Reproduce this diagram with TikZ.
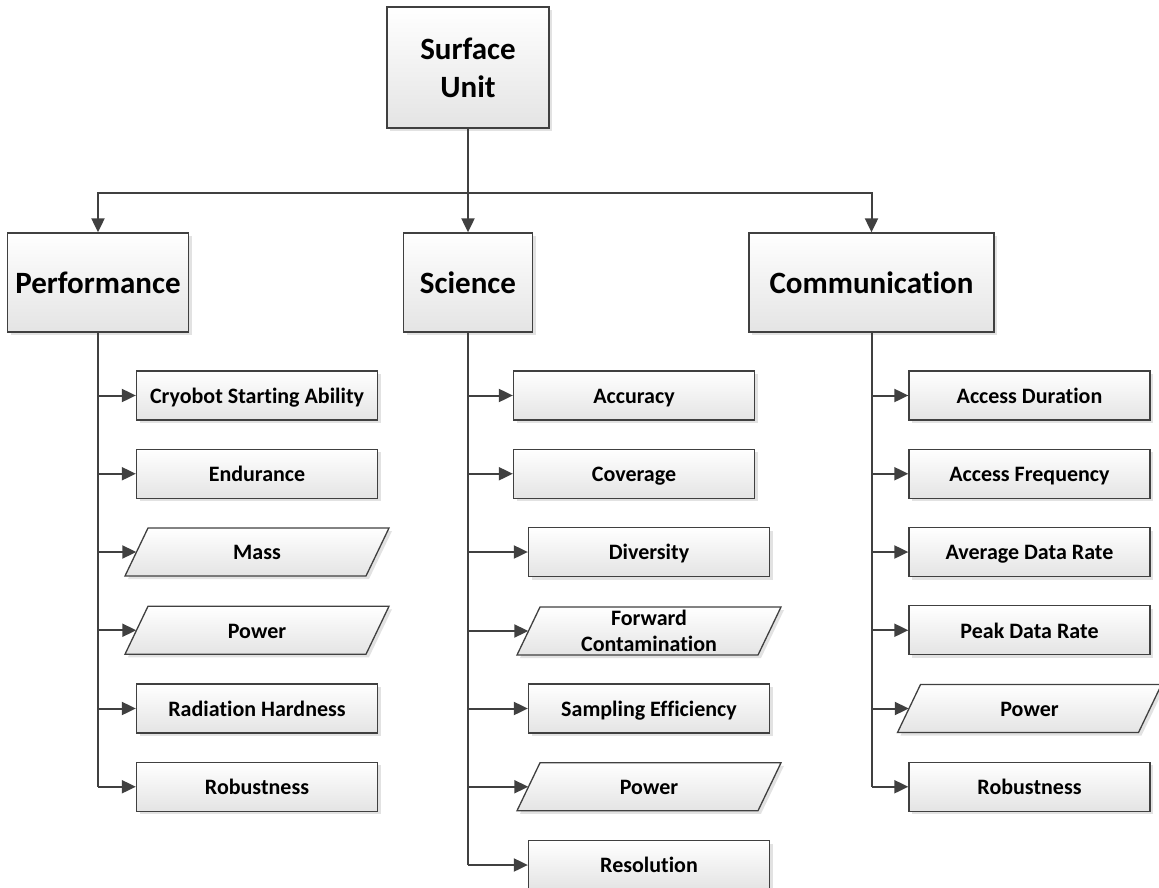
\documentclass[tikz,border=0pt]{standalone}
\usepackage{fontspec}
\setmainfont[Ligatures={NoCommon,NoContextual},RawFeature={-liga;-clig;-dlig}]{Carlito}
\usetikzlibrary{arrows.meta,shadows}
\definecolor{ln}{HTML}{404040}
\definecolor{bot}{HTML}{E4E4E4}
\tikzset{
  boxfill/.style={draw=ln, line width=1.3pt, top color=white, bottom color=bot,
    drop shadow={shadow xshift=3pt, shadow yshift=-3pt, fill=black!25, opacity=0.45}},
  topbox/.style={boxfill, rectangle, font=\fontsize{31}{38}\selectfont\bfseries,
    align=center, inner sep=0pt, minimum height=99pt},
  topone/.style={topbox, text height=21pt, text depth=0pt},
  child/.style={boxfill, rectangle, font=\fontsize{22}{26}\selectfont\bfseries,
    align=center, inner sep=0pt, minimum width=241pt, minimum height=49pt,
    text height=15.5pt, text depth=0pt},
  paratext/.style={rectangle, font=\fontsize{22}{26}\selectfont\bfseries,
    align=center, inner sep=0pt, minimum width=241pt, minimum height=48pt},
  paraone/.style={paratext, text height=15.5pt, text depth=0pt},
  conn/.style={draw=ln, line width=2pt},
  arr/.style={conn, -{Triangle[length=14pt,width=13pt]}}
}
\newcommand\paranode[5][paraone]{%
  \path[boxfill, shift={(#3,#4)}] (-109,-24) -- (132,-24) -- (109,24) -- (-132,24) -- cycle;
  \node[#1] (#2) at (#3,#4) {#5};
}
\begin{document}
\begin{tikzpicture}[x=1pt,y=-1pt]
\useasboundingbox (0,0) rectangle (1159,888);
% top level
\node[topbox, minimum width=162pt, minimum height=121pt] (su) at (468,67.5) {Surface\\Unit};
\node[topone, minimum width=181pt] (perf) at (98,282.5) {Performance};
\node[topone, minimum width=129pt] (sci) at (468,282.5) {Science};
\node[topone, minimum width=245pt] (comm) at (871.5,282.5) {Communication};
\coordinate (br) at (468,193);
% performance children
\node[child] (p1) at (257,395.5) {Cryobot Starting Ability};
\node[child] (p2) at (257,473.75) {Endurance};
\paranode{p3}{257}{552}{Mass}
\paranode{p4}{257}{630.25}{Power}
\node[child] (p5) at (257,708.5) {Radiation Hardness};
\node[child] (p6) at (257,786.75) {Robustness};
% science children
\node[child] (s1) at (634,395.5) {Accuracy};
\node[child] (s2) at (634,473.75) {Coverage};
\node[child] (s3) at (649,552) {Diversity};
\paranode[paratext]{s4}{649}{631}{Forward\\Contamination}
\node[child] (s5) at (649,708.5) {Sampling Efficiency};
\paranode{s6}{649}{786.75}{Power}
\node[child] (s7) at (649,865) {Resolution};
% communication children
\node[child] (c1) at (1029.5,395.5) {Access Duration};
\node[child] (c2) at (1029.5,473.75) {Access Frequency};
\node[child] (c3) at (1029.5,552) {Average Data Rate};
\node[child] (c4) at (1029.5,630.25) {Peak Data Rate};
\paranode{c5}{1029.5}{708.5}{Power}
\node[child] (c6) at (1029.5,786.75) {Robustness};
% root connectors
\draw[arr] (su.south) -- (sci.north);
\draw[arr] (br) -| (perf.north);
\draw[arr] (br) -| (comm.north);
% trunks
\draw[conn] (perf.south) -- (perf.south |- p6.west);
\draw[conn] (sci.south) -- (sci.south |- s7.west);
\draw[conn] (comm.south) -- (comm.south |- c6.west);
\foreach \n in {p1,p2,p3,p4,p5,p6} \draw[arr] (perf.south |- \n.west) -- (\n.west);
\foreach \n in {s1,s2,s3,s4,s5,s6,s7} \draw[arr] (sci.south |- \n.west) -- (\n.west);
\foreach \n in {c1,c2,c3,c4,c5,c6} \draw[arr] (comm.south |- \n.west) -- (\n.west);
\end{tikzpicture}
\end{document}
